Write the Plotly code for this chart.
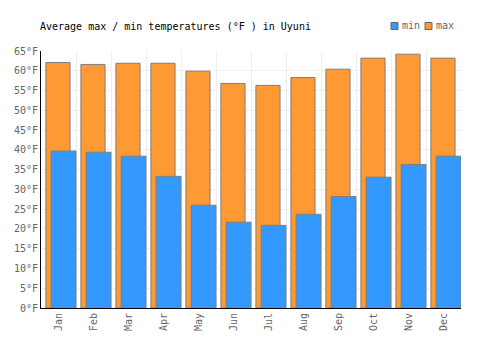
import plotly.graph_objects as go

months = ["Jan", "Feb", "Mar", "Apr", "May", "Jun", "Jul", "Aug", "Sep", "Oct", "Nov", "Dec"]
max_f = [62.1, 61.6, 61.9, 61.9, 59.9, 56.8, 56.3, 58.3, 60.4, 63.2, 64.2, 63.2]
min_f = [39.7, 39.4, 38.4, 33.3, 26.0, 21.7, 20.9, 23.7, 28.2, 33.1, 36.3, 38.4]
y_ticks = list(range(0, 70, 5))
y_labels = [f"{v}°F" for v in y_ticks]
series_names = ["min", "max"]
series_colors = ["#3399FF", "#FF9933"]

FONT = "DejaVu Sans Mono"
W, H = 500, 350
L, R, T, B = 41, 39, 51, 42
PW, PH = W - L - R, H - T - B

def px(x):
    return (x - L) / PW

def py(y):
    return (H - B - y) / PH

fig = go.Figure()
fig.add_trace(go.Bar(
    x=months, y=max_f, name="max", showlegend=False,
    marker=dict(color=series_colors[1], line=dict(color="#7f7f7f", width=1)),
    width=0.69, offset=-0.36, hoverinfo="skip",
))
fig.add_trace(go.Bar(
    x=months, y=min_f, name="min", showlegend=False,
    marker=dict(color=series_colors[0], line=dict(color="#7f7f7f", width=1)),
    width=0.71, offset=-0.21, hoverinfo="skip",
))

# legend drawn manually
legend_x = [391, 425]
shapes = []
annotations = []
for name, color, lx in zip(series_names, series_colors, legend_x):
    shapes.append(dict(type="rect", xref="paper", yref="paper",
                       x0=px(lx), x1=px(lx + 7), y0=py(29.5), y1=py(22.5),
                       fillcolor=color, line=dict(color="#666666", width=1)))
    annotations.append(dict(text=name, xref="paper", yref="paper", x=px(lx + 9), y=py(26),
                            xanchor="left", yanchor="middle", showarrow=False,
                            font=dict(family=FONT, size=10, color="#666666")))

fig.update_layout(
    width=W, height=H,
    barmode="overlay",
    margin=dict(l=L, r=R, t=T, b=B),
    paper_bgcolor="white", plot_bgcolor="white",
    font=dict(family=FONT, size=10, color="#666666"),
    title=dict(text="Average max / min temperatures (°F ) in Uyuni",
               x=40/W, xanchor="left", y=1-26/H, yanchor="middle",
               font=dict(family=FONT, size=10, color="#000000")),
    showlegend=False,
    shapes=shapes,
    annotations=annotations,
)
fig.update_xaxes(
    type="category", tickson="boundaries", showgrid=True, gridcolor="#eeeeee", gridwidth=1,
    showline=True, linecolor="#000000", linewidth=1, ticks="", tickangle=-90,
    range=[-0.5, 11.5], tickfont=dict(family=FONT, size=10, color="#666666"),
)
fig.update_yaxes(
    range=[0, 65], tickvals=y_ticks, ticktext=y_labels, showgrid=True, gridcolor="#eeeeee",
    gridwidth=1, showline=True, linecolor="#000000", linewidth=1, ticks="", zeroline=False,
    tickfont=dict(family=FONT, size=10, color="#666666"),
)
fig.write_html("out.html")
